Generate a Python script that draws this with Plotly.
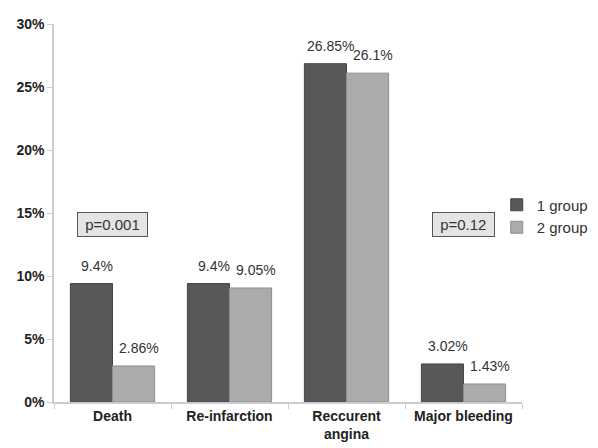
import plotly.graph_objects as go

categories = ["Death", "Re-infarction", "Reccurent<br>angina", "Major bleeding"]
group1 = [9.4, 9.4, 26.85, 3.02]
group2 = [2.86, 9.05, 26.1, 1.43]
group1_labels = ["9.4%", "9.4%", "26.85%", "3.02%"]
group2_labels = ["2.86%", "9.05%", "26.1%", "1.43%"]
pvalues = ["p=0.001", "p=0.12"]
pvalue_cats = [0, 3]
pvalue_y = 14.1
yticks = [0, 5, 10, 15, 20, 25, 30]

FONT = "Liberation Sans, Arial, sans-serif"

fig = go.Figure()
fig.add_trace(go.Bar(
    x=categories, y=group1, name="1 group",
    marker=dict(color="#58585a", line=dict(color="#454547", width=1)),
))
fig.add_trace(go.Bar(
    x=categories, y=group2, name="2 group",
    marker=dict(color="#ababad", line=dict(color="#8e8e90", width=1)),
))

# value labels above each bar (left bar / right bar of each group)
for i, (v1, v2, t1, t2) in enumerate(zip(group1, group2, group1_labels, group2_labels)):
    for v, t, xs in ((v1, t1, -16), (v2, t2, 26)):
        fig.add_annotation(
            x=i, y=v, xref="x", yref="y", text=t, showarrow=False,
            xshift=xs, yshift=18, yanchor="middle",
            font=dict(size=14, color="#333333", family=FONT),
        )

for cat_idx, ptxt in zip(pvalue_cats, pvalues):
    fig.add_annotation(
        x=cat_idx, y=pvalue_y, xref="x", yref="y",
        text="\u00a0" + ptxt + "\u00a0", showarrow=False,
        font=dict(size=15, color="#333333", family=FONT),
        bgcolor="#e4e4e4", bordercolor="#555555", borderwidth=1, borderpad=3,
    )

# the page body adds an 8px margin, so the figure is sized to the remaining area
fig.update_layout(
    width=590, height=440,
    margin=dict(l=46, r=76, t=16, b=46, autoexpand=False),
    paper_bgcolor="white", plot_bgcolor="white",
    font=dict(family=FONT, color="#333333"),
    barmode="group", bargap=0.28, bargroupgap=0,
    legend=dict(x=0.946, y=0.492, xanchor="left", yanchor="middle",
                font=dict(size=15, color="#333333", family=FONT), itemwidth=30,
                tracegroupgap=0, bgcolor="rgba(0,0,0,0)"),
    showlegend=True,
)
fig.update_xaxes(
    showline=True, linecolor="#cccccc", linewidth=1.5,
    ticks="outside", tickson="boundaries", ticklen=5, tickcolor="#cccccc",
    tickfont=dict(size=14, color="#222222", family=FONT),
    showgrid=False,
    tickvals=categories, ticktext=["<b>" + c + "</b>" for c in categories],
)
fig.update_yaxes(
    range=[0, 30],
    showline=True, linecolor="#cccccc", linewidth=1.5,
    ticks="outside", ticklen=5, tickcolor="#cccccc",
    tickfont=dict(size=14, color="#222222", family=FONT),
    showgrid=False, zeroline=False,
    tickvals=yticks, ticktext=["<b>%d%%</b>" % v for v in yticks],
)

fig.write_html("out.html")
